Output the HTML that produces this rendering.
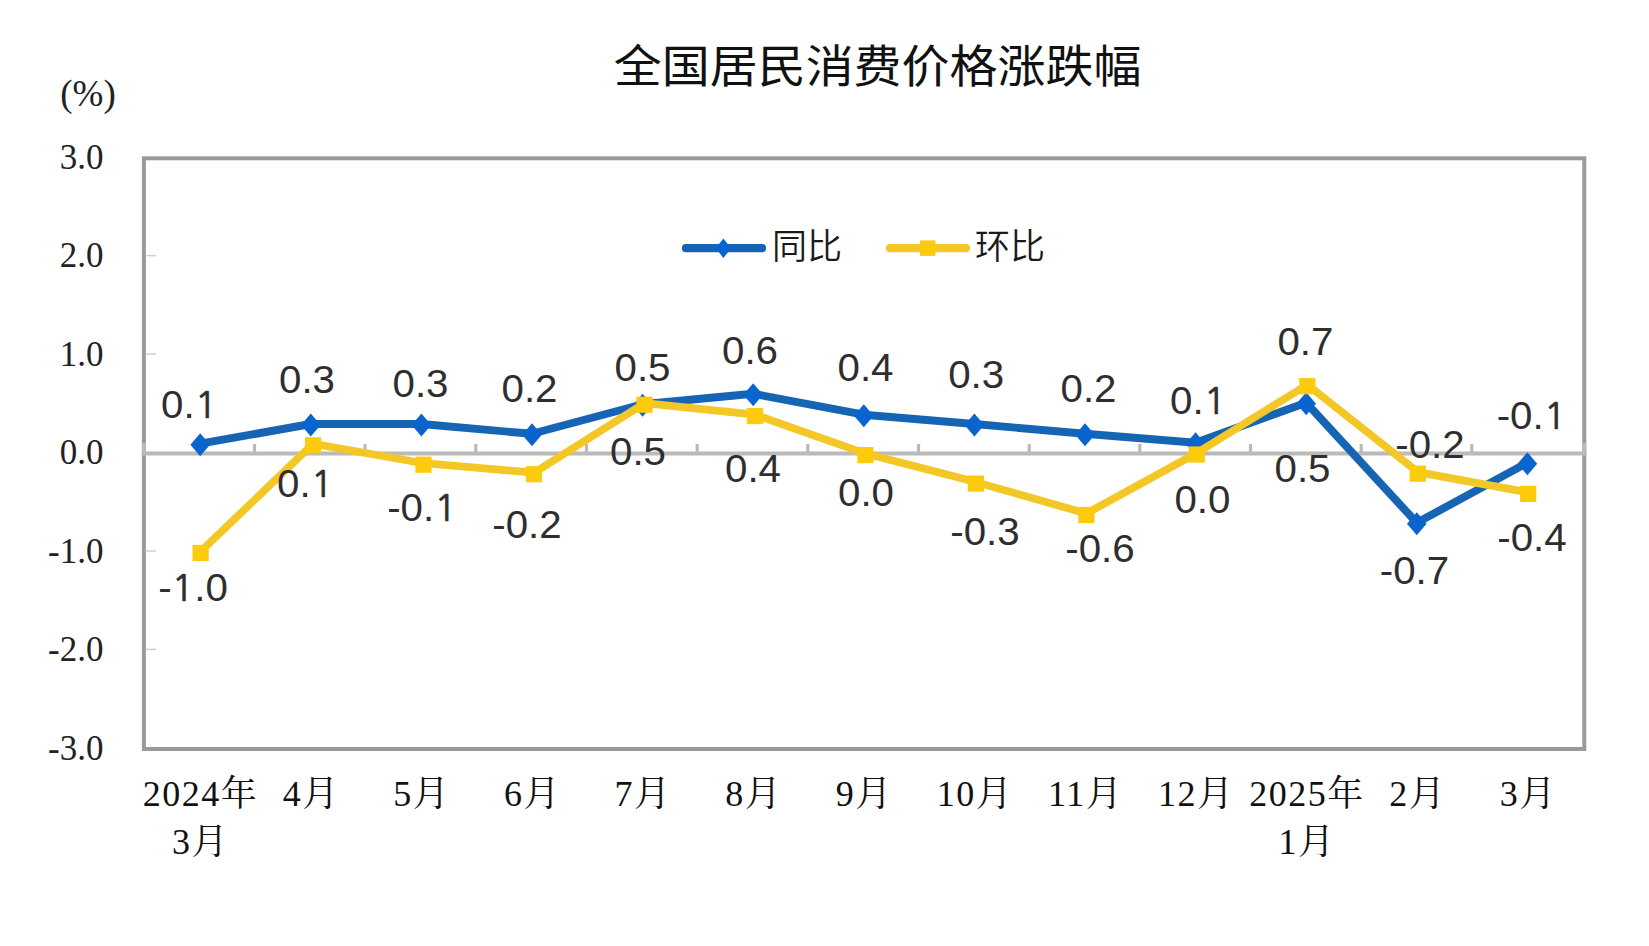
<!DOCTYPE html>
<html lang="zh-CN"><head><meta charset="utf-8"><title>全国居民消费价格涨跌幅</title>
<style>
html,body{margin:0;padding:0;background:#fff;}
body{width:1649px;height:946px;overflow:hidden;}
svg{display:block;}
.title{font-family:"Liberation Sans","Noto Sans CJK SC",sans-serif;font-size:45.6px;fill:#111;font-weight:400;}
.leg{font-family:"Liberation Sans","Noto Sans CJK SC",sans-serif;font-size:35px;fill:#1a1a1a;font-weight:350;}
.yl{font-family:"Liberation Serif",serif;font-size:35px;fill:#222;}
.un{font-family:"Liberation Serif",serif;font-size:37px;fill:#222;}
.xl{font-family:"Liberation Serif","Noto Serif CJK SC",serif;font-size:36px;fill:#111;font-weight:400;}
.dg{letter-spacing:1.5px;}
.one{font-family:"NanumGothic",sans-serif;font-size:36.6px;stroke:#2e2e2e;stroke-width:0.7px;}
.dl{font-family:"Liberation Sans",sans-serif;font-size:39.5px;fill:#2e2e2e;}
</style></head><body>
<svg width="1649" height="946" viewBox="0 0 1649 946">
<rect x="0" y="0" width="1649" height="946" fill="#ffffff"/>
<text class="title" transform="translate(877.6 83.2) scale(1.052 1)" text-anchor="middle">全国居民消费价格涨跌幅</text>
<text class="un" x="88" y="105.5" text-anchor="middle">(%)</text>
<rect x="143.9" y="158.3" width="1440.4" height="590.7" fill="none" stroke="#9a9a9a" stroke-width="4"/>
<line x1="145.8" y1="255.6" x2="156.3" y2="255.6" stroke="#cfcfcf" stroke-width="1.5"/>
<line x1="145.8" y1="354.1" x2="156.3" y2="354.1" stroke="#cfcfcf" stroke-width="1.5"/>
<line x1="145.8" y1="551.0" x2="156.3" y2="551.0" stroke="#cfcfcf" stroke-width="1.5"/>
<line x1="145.8" y1="649.4" x2="156.3" y2="649.4" stroke="#cfcfcf" stroke-width="1.5"/>
<line x1="141.8" y1="453.5" x2="1586.2" y2="453.5" stroke="#bababa" stroke-width="4.2"/>
<line x1="143.9" y1="443.0" x2="143.9" y2="453.5" stroke="#bababa" stroke-width="4"/>
<line x1="254.5" y1="444.0" x2="254.5" y2="453.5" stroke="#bababa" stroke-width="3.2"/>
<line x1="365.1" y1="444.0" x2="365.1" y2="453.5" stroke="#bababa" stroke-width="3.2"/>
<line x1="475.8" y1="444.0" x2="475.8" y2="453.5" stroke="#bababa" stroke-width="3.2"/>
<line x1="586.5" y1="444.0" x2="586.5" y2="453.5" stroke="#bababa" stroke-width="3.2"/>
<line x1="697.2" y1="444.0" x2="697.2" y2="453.5" stroke="#bababa" stroke-width="3.2"/>
<line x1="807.8" y1="444.0" x2="807.8" y2="453.5" stroke="#bababa" stroke-width="3.2"/>
<line x1="918.5" y1="444.0" x2="918.5" y2="453.5" stroke="#bababa" stroke-width="3.2"/>
<line x1="1029.2" y1="444.0" x2="1029.2" y2="453.5" stroke="#bababa" stroke-width="3.2"/>
<line x1="1139.8" y1="444.0" x2="1139.8" y2="453.5" stroke="#bababa" stroke-width="3.2"/>
<line x1="1250.5" y1="444.0" x2="1250.5" y2="453.5" stroke="#bababa" stroke-width="3.2"/>
<line x1="1361.2" y1="444.0" x2="1361.2" y2="453.5" stroke="#bababa" stroke-width="3.2"/>
<line x1="1471.8" y1="444.0" x2="1471.8" y2="453.5" stroke="#bababa" stroke-width="3.2"/>
<line x1="1584.3" y1="443.0" x2="1584.3" y2="453.5" stroke="#bababa" stroke-width="4"/>
<text class="yl" x="103.5" y="168.9" text-anchor="end">3.0</text>
<text class="yl" x="103.5" y="267.4" text-anchor="end">2.0</text>
<text class="yl" x="103.5" y="365.9" text-anchor="end">1.0</text>
<text class="yl" x="103.5" y="464.3" text-anchor="end">0.0</text>
<text class="yl" x="103.5" y="562.8" text-anchor="end">-1.0</text>
<text class="yl" x="103.5" y="661.2" text-anchor="end">-2.0</text>
<text class="yl" x="103.5" y="759.6" text-anchor="end">-3.0</text>
<text class="xl" x="199.7" y="806.0" text-anchor="middle"><tspan class="dg">2024</tspan>年</text>
<text class="xl" x="199.7" y="854.0" text-anchor="middle"><tspan class="dg">3</tspan>月</text>
<text class="xl" x="310.4" y="806.0" text-anchor="middle"><tspan class="dg">4</tspan>月</text>
<text class="xl" x="421.0" y="806.0" text-anchor="middle"><tspan class="dg">5</tspan>月</text>
<text class="xl" x="531.7" y="806.0" text-anchor="middle"><tspan class="dg">6</tspan>月</text>
<text class="xl" x="642.3" y="806.0" text-anchor="middle"><tspan class="dg">7</tspan>月</text>
<text class="xl" x="753.0" y="806.0" text-anchor="middle"><tspan class="dg">8</tspan>月</text>
<text class="xl" x="863.6" y="806.0" text-anchor="middle"><tspan class="dg">9</tspan>月</text>
<text class="xl" x="974.2" y="806.0" text-anchor="middle"><tspan class="dg">10</tspan>月</text>
<text class="xl" x="1084.9" y="806.0" text-anchor="middle"><tspan class="dg">11</tspan>月</text>
<text class="xl" x="1195.5" y="806.0" text-anchor="middle"><tspan class="dg">12</tspan>月</text>
<text class="xl" x="1306.2" y="806.0" text-anchor="middle"><tspan class="dg">2025</tspan>年</text>
<text class="xl" x="1306.2" y="854.0" text-anchor="middle"><tspan class="dg">1</tspan>月</text>
<text class="xl" x="1416.9" y="806.0" text-anchor="middle"><tspan class="dg">2</tspan>月</text>
<text class="xl" x="1527.5" y="806.0" text-anchor="middle"><tspan class="dg">3</tspan>月</text>
<polyline points="200.2,443.7 310.8,424.0 421.4,424.0 532.0,433.8 642.6,404.3 753.2,393.8 863.8,414.7 974.4,424.0 1085.0,433.8 1195.6,442.7 1306.2,402.7 1416.8,522.8 1527.4,462.7" fill="none" stroke="#1565b4" stroke-width="7.9" stroke-linejoin="round" stroke-linecap="round"/>
<path d="M200.2 433.2L210.0 444.7L200.2 456.2L190.4 444.7Z" fill="#0a64cf"/>
<path d="M310.8 413.5L320.6 425.0L310.8 436.5L301.0 425.0Z" fill="#0a64cf"/>
<path d="M421.4 413.5L431.2 425.0L421.4 436.5L411.6 425.0Z" fill="#0a64cf"/>
<path d="M532.0 423.3L541.8 434.8L532.0 446.3L522.2 434.8Z" fill="#0a64cf"/>
<path d="M642.6 393.8L652.4 405.3L642.6 416.8L632.8 405.3Z" fill="#0a64cf"/>
<path d="M753.2 383.3L763.0 394.8L753.2 406.3L743.4 394.8Z" fill="#0a64cf"/>
<path d="M863.8 404.2L873.6 415.7L863.8 427.2L854.0 415.7Z" fill="#0a64cf"/>
<path d="M974.4 413.5L984.2 425.0L974.4 436.5L964.6 425.0Z" fill="#0a64cf"/>
<path d="M1085.0 423.3L1094.8 434.8L1085.0 446.3L1075.2 434.8Z" fill="#0a64cf"/>
<path d="M1195.6 432.2L1205.4 443.7L1195.6 455.2L1185.8 443.7Z" fill="#0a64cf"/>
<path d="M1306.2 392.2L1316.0 403.7L1306.2 415.2L1296.4 403.7Z" fill="#0a64cf"/>
<path d="M1416.8 512.3L1426.6 523.8L1416.8 535.3L1407.0 523.8Z" fill="#0a64cf"/>
<path d="M1527.4 452.2L1537.2 463.7L1527.4 475.2L1517.6 463.7Z" fill="#0a64cf"/>
<polyline points="200.6,551.5 313.1,443.8 423.5,463.2 534.0,472.7 644.5,403.2 755.0,414.6 865.4,453.6 975.9,482.1 1086.4,513.5 1196.8,453.0 1307.3,384.7 1417.8,472.1 1528.2,492.4" fill="none" stroke="#f3c726" stroke-width="7.7" stroke-linejoin="round" stroke-linecap="round"/>
<rect x="192.5" y="544.9" width="16.2" height="16.2" fill="#fccb0c"/>
<rect x="305.0" y="437.2" width="16.2" height="16.2" fill="#fccb0c"/>
<rect x="415.4" y="456.6" width="16.2" height="16.2" fill="#fccb0c"/>
<rect x="525.9" y="466.1" width="16.2" height="16.2" fill="#fccb0c"/>
<rect x="636.4" y="396.6" width="16.2" height="16.2" fill="#fccb0c"/>
<rect x="746.9" y="408.0" width="16.2" height="16.2" fill="#fccb0c"/>
<rect x="857.3" y="447.0" width="16.2" height="16.2" fill="#fccb0c"/>
<rect x="967.8" y="475.5" width="16.2" height="16.2" fill="#fccb0c"/>
<rect x="1078.3" y="506.9" width="16.2" height="16.2" fill="#fccb0c"/>
<rect x="1188.7" y="446.4" width="16.2" height="16.2" fill="#fccb0c"/>
<rect x="1299.2" y="378.1" width="16.2" height="16.2" fill="#fccb0c"/>
<rect x="1409.7" y="465.5" width="16.2" height="16.2" fill="#fccb0c"/>
<rect x="1520.1" y="485.8" width="16.2" height="16.2" fill="#fccb0c"/>
<line x1="686" y1="248.2" x2="762" y2="248.2" stroke="#1565b4" stroke-width="8.2" stroke-linecap="round"/>
<path d="M723.4 238.4L731.1 248.2L723.4 257.9L715.6 248.2Z" fill="#0a64cf"/>
<text class="leg" x="772" y="258.5">同比</text>
<line x1="890" y1="248.2" x2="966" y2="248.2" stroke="#f3c726" stroke-width="8.2" stroke-linecap="round"/>
<rect x="920.0" y="240.4" width="15.5" height="15.5" fill="#fccb0c"/>
<text class="leg" x="975" y="258.5">环比</text>
<text class="dl" transform="translate(189.2 417.5) scale(1.02 1)" text-anchor="middle">0.<tspan class="one">1</tspan></text>
<text class="dl" transform="translate(307.0 393.0) scale(1.02 1)" text-anchor="middle">0.3</text>
<text class="dl" transform="translate(420.5 397.0) scale(1.02 1)" text-anchor="middle">0.3</text>
<text class="dl" transform="translate(529.5 402.0) scale(1.02 1)" text-anchor="middle">0.2</text>
<text class="dl" transform="translate(642.5 381.0) scale(1.02 1)" text-anchor="middle">0.5</text>
<text class="dl" transform="translate(750.0 364.0) scale(1.02 1)" text-anchor="middle">0.6</text>
<text class="dl" transform="translate(865.5 381.0) scale(1.02 1)" text-anchor="middle">0.4</text>
<text class="dl" transform="translate(976.2 388.0) scale(1.02 1)" text-anchor="middle">0.3</text>
<text class="dl" transform="translate(1088.5 402.0) scale(1.02 1)" text-anchor="middle">0.2</text>
<text class="dl" transform="translate(1198.2 414.0) scale(1.02 1)" text-anchor="middle">0.<tspan class="one">1</tspan></text>
<text class="dl" transform="translate(1302.5 481.8) scale(1.02 1)" text-anchor="middle">0.5</text>
<text class="dl" transform="translate(1414.5 583.6) scale(1.02 1)" text-anchor="middle">-0.7</text>
<text class="dl" transform="translate(1531.5 429.0) scale(1.02 1)" text-anchor="middle">-0.<tspan class="one">1</tspan></text>
<text class="dl" transform="translate(193.0 600.5) scale(1.02 1)" text-anchor="middle">-<tspan class="one">1</tspan>.0</text>
<text class="dl" transform="translate(305.2 497.0) scale(1.02 1)" text-anchor="middle">0.<tspan class="one">1</tspan></text>
<text class="dl" transform="translate(422.0 521.0) scale(1.02 1)" text-anchor="middle">-0.<tspan class="one">1</tspan></text>
<text class="dl" transform="translate(527.0 537.5) scale(1.02 1)" text-anchor="middle">-0.2</text>
<text class="dl" transform="translate(638.0 465.0) scale(1.02 1)" text-anchor="middle">0.5</text>
<text class="dl" transform="translate(753.0 482.2) scale(1.02 1)" text-anchor="middle">0.4</text>
<text class="dl" transform="translate(866.0 506.4) scale(1.02 1)" text-anchor="middle">0.0</text>
<text class="dl" transform="translate(985.0 545.4) scale(1.02 1)" text-anchor="middle">-0.3</text>
<text class="dl" transform="translate(1100.0 561.6) scale(1.02 1)" text-anchor="middle">-0.6</text>
<text class="dl" transform="translate(1202.4 512.6) scale(1.02 1)" text-anchor="middle">0.0</text>
<text class="dl" transform="translate(1305.4 355.0) scale(1.02 1)" text-anchor="middle">0.7</text>
<text class="dl" transform="translate(1430.0 458.4) scale(1.02 1)" text-anchor="middle">-0.2</text>
<text class="dl" transform="translate(1532.0 551.0) scale(1.02 1)" text-anchor="middle">-0.4</text>
</svg>
</body></html>
